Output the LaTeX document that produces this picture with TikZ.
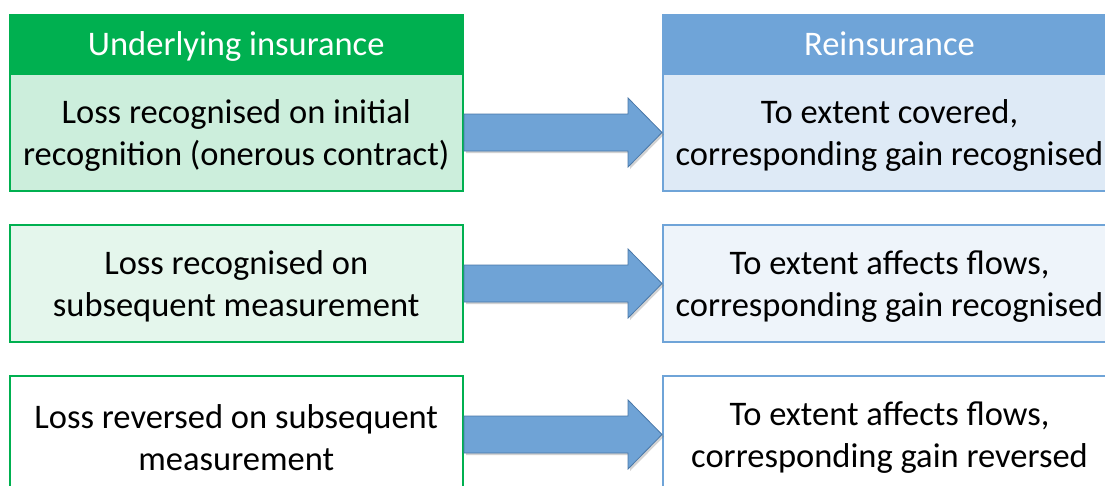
\documentclass[tikz,border=0pt]{standalone}
\usepackage{fontspec}
\setmainfont{Carlito}
\usetikzlibrary{calc,shadows}
\definecolor{grn}{HTML}{00B050}
\definecolor{grnA}{HTML}{CCEEDC}
\definecolor{grnB}{HTML}{E4F6EC}
\definecolor{blu}{HTML}{6FA4D8}
\definecolor{bluA}{HTML}{DEEAF6}
\definecolor{bluB}{HTML}{EEF4FA}
\definecolor{arrfill}{HTML}{6FA3D6}
\definecolor{arrline}{HTML}{4A78A8}
\tikzset{
  bodytxt/.style={font=\fontsize{34.5}{42}\selectfont, align=center, text=black, inner sep=0pt, yshift=-3pt},
  headtxt/.style={font=\fontsize{34.5}{42}\selectfont, text=white, inner sep=0pt, text height=22pt, text depth=0pt},
  gbox/.style={draw=grn, line width=2pt, minimum width=453.5pt, minimum height=117pt, inner sep=0pt},
  bbox/.style={draw=blu, line width=2pt, minimum width=453pt, minimum height=117pt, inner sep=0pt},
  ghead/.style={gbox, fill=grn, minimum height=59pt},
  bhead/.style={bbox, fill=blu, minimum height=59pt},
  blockarrow/.style={fill=arrfill, draw=arrline, line width=0.8pt, line join=miter,
    drop shadow={opacity=0.35, shadow xshift=2pt, shadow yshift=-2pt}},
}
\newcommand\blockarr[2]{%
  \path[blockarrow] ($(#1.east)+(0,-18.5)$) -- ($(#2.west)+(-34,-18.5)$)
    -- ($(#2.west)+(-34,-34.5)$) -- (#2.west) -- ($(#2.west)+(-34,34.5)$)
    -- ($(#2.west)+(-34,18.5)$) -- ($(#1.east)+(0,18.5)$) -- cycle;}
\begin{document}
\begin{tikzpicture}[x=1pt,y=-1pt]
\useasboundingbox (0,0) rectangle (1105,485);
\clip (0,0) rectangle (1105,485);
\fill[white] (0,0) rectangle (1105,485);
% left column
\node[ghead, label={[headtxt]center:Underlying insurance}] (gh) at (236.25,44.5) {};
\node[gbox, fill=grnA, label={[bodytxt]center:{Loss recognised on initial\\recognition (onerous contract)}}] (g1) at (236.25,132.5) {};
\node[gbox, fill=grnB, label={[bodytxt]center:{Loss recognised on\\subsequent measurement}}] (g2) at (236.25,283.5) {};
\node[gbox, fill=white, label={[bodytxt]center:{Loss reversed on subsequent\\measurement}}] (g3) at (236.25,434.5) {};
% right column
\node[bhead, label={[headtxt]center:Reinsurance}] (rh) at (889.5,44.5) {};
\node[bbox, fill=bluA, label={[bodytxt]center:{To extent covered,\\corresponding gain recognised}}] (r1) at (889.5,132.5) {};
\node[bbox, fill=bluB, label={[bodytxt]center:{To extent affects flows,\\corresponding gain recognised}}] (r2) at (889.5,283.5) {};
\node[bbox, fill=white, label={[bodytxt]center:{To extent affects flows,\\corresponding gain reversed}}] (r3) at (889.5,434.5) {};
% arrows
\blockarr{g1}{r1}
\blockarr{g2}{r2}
\blockarr{g3}{r3}
\end{tikzpicture}
\end{document}
